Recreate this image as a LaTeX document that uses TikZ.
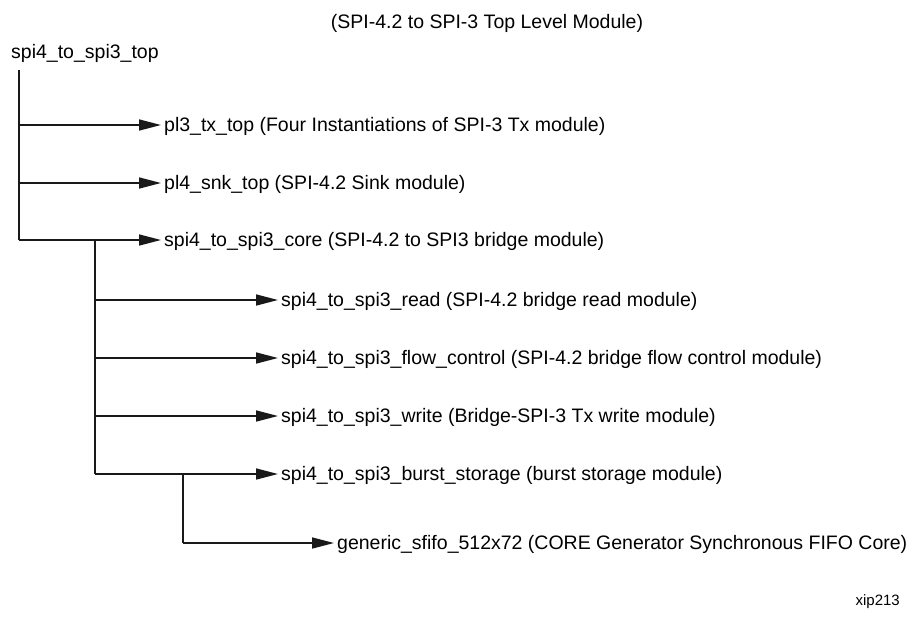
\documentclass[tikz,border=0pt]{standalone}
\usepackage{fontspec}
\setmainfont{Liberation Sans}
\usetikzlibrary{arrows.meta}
\begin{document}
\begin{tikzpicture}[x=1pt,y=-1pt,
  lbl/.style={inner sep=0pt, anchor=base west, font=\fontsize{19.5}{21}\selectfont},
  conn/.style={line width=1.6pt, draw=black!90},
  arr/.style={conn, -{Triangle[length=22pt,width=11pt]}, shorten >=3pt}]
\useasboundingbox (0,0) rectangle (912,616);
\node[lbl, anchor=base] (title) at (487,28) {(SPI-4.2 to SPI-3 Top Level Module)};
\node[lbl] (top) at (11,58) {spi4\_to\_spi3\_top};
\node[lbl] (tx) at (164,131) {pl3\_tx\_top (Four Instantiations of SPI-3 Tx module)};
\node[lbl] (snk) at (164,189) {pl4\_snk\_top (SPI-4.2 Sink module)};
\node[lbl] (core) at (164,246) {spi4\_to\_spi3\_core (SPI-4.2 to SPI3 bridge module)};
\node[lbl] (rd) at (281,306) {spi4\_to\_spi3\_read (SPI-4.2 bridge read module)};
\node[lbl] (fc) at (281,364) {spi4\_to\_spi3\_flow\_control (SPI-4.2 bridge flow control module)};
\node[lbl] (wr) at (281,422) {spi4\_to\_spi3\_write (Bridge-SPI-3 Tx write module)};
\node[lbl] (bs) at (281,480) {spi4\_to\_spi3\_burst\_storage (burst storage module)};
\node[lbl] (ff) at (337,549) {generic\_sfifo\_512x72 (CORE Generator Synchronous FIFO Core)};
\node[lbl, anchor=base east, font=\fontsize{15}{17}\selectfont] (xip) at (900,605) {xip213};
% trunk 1
\coordinate (v1t) at (19,70);
\coordinate (v1b) at (19,240);
\draw[conn] (v1t) -- (v1b);
\draw[arr] (v1t |- 0,125) -- (tx.west |- 0,125);
\draw[arr] (v1t |- 0,183) -- (snk.west |- 0,183);
\draw[arr] (v1b) -- (core.west |- v1b);
% trunk 2
\coordinate (v2t) at (95,240);
\coordinate (v2b) at (95,474);
\draw[conn] (v2t) -- (v2b);
\draw[arr] (v2t |- 0,300) -- (rd.west |- 0,300);
\draw[arr] (v2t |- 0,358) -- (fc.west |- 0,358);
\draw[arr] (v2t |- 0,416) -- (wr.west |- 0,416);
\draw[arr] (v2b) -- (bs.west |- v2b);
% trunk 3
\coordinate (v3t) at (183,474);
\coordinate (v3b) at (183,543);
\draw[conn] (v3t) -- (v3b);
\draw[arr] (v3b) -- (ff.west |- v3b);
\end{tikzpicture}
\end{document}
